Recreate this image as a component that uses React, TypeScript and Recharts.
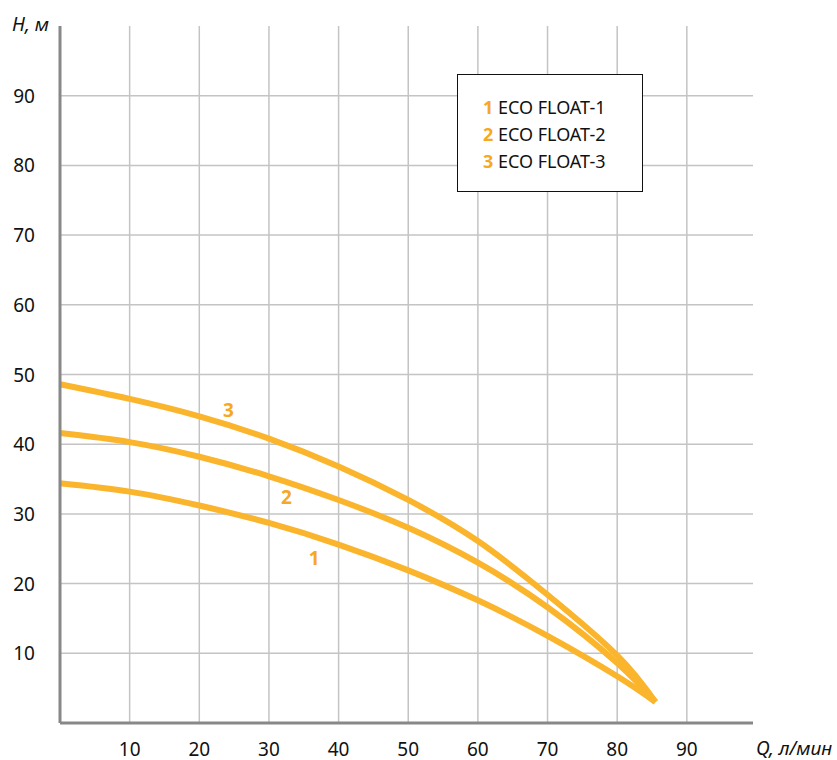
import { LineChart, Line, XAxis, YAxis, CartesianGrid, ReferenceDot } from "recharts";

const FLOW = [0, 10, 20, 30, 40, 50, 60, 70, 80, 85.5];
const HEAD_1 = [34.4, 33.2, 31.2, 28.7, 25.6, 21.9, 17.6, 12.5, 6.7, 3];
const HEAD_2 = [41.6, 40.3, 38.2, 35.4, 32.0, 28.0, 23.0, 16.6, 8.6, 3];
const HEAD_3 = [48.6, 46.5, 44.0, 40.8, 36.8, 32.0, 26.1, 18.4, 9.7, 3];

const X_TICKS = [10, 20, 30, 40, 50, 60, 70, 80, 90];
const Y_TICKS = [10, 20, 30, 40, 50, 60, 70, 80, 90];

const SERIES = [
  { id: "1", name: "ECO FLOAT-1", key: "h1" },
  { id: "2", name: "ECO FLOAT-2", key: "h2" },
  { id: "3", name: "ECO FLOAT-3", key: "h3" },
];

// curve number labels, in data coordinates
const CURVE_LABELS = [
  { id: "1", q: 36.5, h: 23.7 },
  { id: "2", q: 32.5, h: 32.4 },
  { id: "3", q: 24.2, h: 44.9 },
];

const ORANGE = "#fbb52d";
const LABEL_ORANGE = "#f7a823";
const FONT = "'Noto Sans', 'Open Sans', sans-serif";

const YTick = ({ x, y, payload }: any) => (
  <text x={x - 17} y={y} dy={7} textAnchor="end" fontSize={19} fill="#111" fontFamily={FONT}>
    {payload.value}
  </text>
);

const XTick = ({ x, y, payload }: any) => (
  <text x={x} y={y + 19} dy={6} textAnchor="middle" fontSize={19} fill="#111" fontFamily={FONT}>
    {payload.value}
  </text>
);

export default function App() {
  const chartData = FLOW.map((q, i) => ({
    q,
    h1: HEAD_1[i],
    h2: HEAD_2[i],
    h3: HEAD_3[i],
  }));

  return (
    <div style={{ position: "absolute", left: 0, top: 0, width: 837, height: 760, background: "#fff" }}>
      <LineChart
        width={837}
        height={760}
        data={chartData}
        margin={{ top: 26, right: 84, bottom: 0, left: 0 }}
      >
        <CartesianGrid stroke="#c4c4c4" strokeWidth={1.5} verticalValues={X_TICKS} horizontalValues={Y_TICKS} />
        <XAxis
          type="number"
          dataKey="q"
          domain={[0, 99.5]}
          ticks={X_TICKS}
          height={37}
          axisLine={{ stroke: "#888", strokeWidth: 3 }}
          tickLine={false}
          tick={<XTick />}
          interval={0}
        />
        <YAxis
          type="number"
          domain={[0, 100]}
          ticks={Y_TICKS}
          width={60}
          axisLine={{ stroke: "#888", strokeWidth: 3 }}
          tickLine={false}
          tick={<YTick />}
          interval={0}
        />
        {SERIES.map((s) => (
          <Line
            key={s.key}
            type="natural"
            dataKey={s.key}
            name={s.name}
            stroke={ORANGE}
            strokeWidth={6}
            dot={false}
            activeDot={false}
            isAnimationActive={false}
          />
        ))}
        {CURVE_LABELS.map((l) => (
          <ReferenceDot
            key={l.id}
            x={l.q}
            y={l.h}
            r={0}
            stroke="none"
            fill="none"
            label={{ value: l.id, position: "center", fill: LABEL_ORANGE, fontSize: 19, fontWeight: 700, fontFamily: FONT }}
          />
        ))}
      </LineChart>
      <div
        style={{
          position: "absolute",
          left: 457,
          top: 74,
          width: 186,
          height: 118,
          border: "1.5px solid #111",
          background: "#fff",
          boxSizing: "border-box",
          padding: "19px 0 0 25px",
          fontFamily: FONT,
          fontSize: 18,
          lineHeight: "27px",
          color: "#111",
        }}
      >
        {SERIES.map((s) => (
          <div key={s.id}>
            <span style={{ color: LABEL_ORANGE, fontWeight: 700 }}>{s.id}</span> {s.name}
          </div>
        ))}
      </div>
      <div
        style={{
          position: "absolute",
          left: 12,
          top: 11,
          fontFamily: FONT,
          fontStyle: "italic",
          fontSize: 19,
          color: "#111",
        }}
      >
        H, м
      </div>
      <div
        style={{
          position: "absolute",
          left: 756,
          top: 735,
          fontFamily: FONT,
          fontStyle: "italic",
          fontSize: 19,
          color: "#111",
          whiteSpace: "nowrap",
        }}
      >
        Q, л/мин
      </div>
    </div>
  );
}
